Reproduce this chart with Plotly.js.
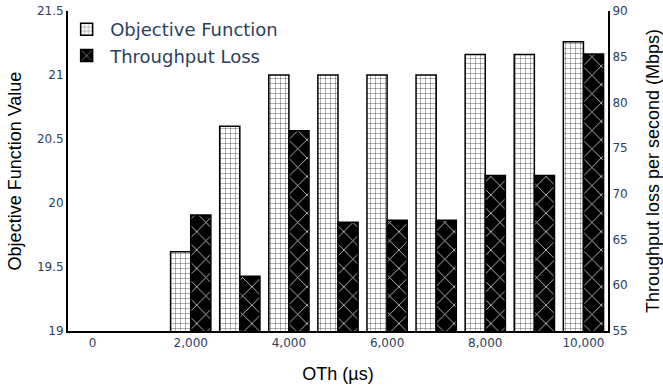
<!DOCTYPE html>
<html>
<head>
<meta charset="utf-8">
<script src="https://cdn.plot.ly/plotly-3.0.1.min.js"></script>
<style>
  html, body { margin: 0; padding: 0; background: #fff; }
  #chart { width: 663px; height: 389px; }
</style>
</head>
<body>
<div id="chart"></div>
<script>
// OTh thresholds (µs)
let oth = [2000, 3000, 4000, 5000, 6000, 7000, 8000, 9000, 10000];

// objective function value for each threshold (left axis)
let objective = [19.62, 20.6, 21.0, 21.0, 21.0, 21.0, 21.16, 21.16, 21.26];

// throughput loss in Mbps (right axis)
let throughputLoss = [67.7, 61.0, 76.9, 66.9, 67.1, 67.1, 72.0, 72.0, 85.3];

let tickFont = { family: 'DejaVu Sans, Verdana, sans-serif', size: 12, color: '#2a3f5f' };
let titleFont = { family: 'Liberation Sans, Arial, sans-serif', size: 18, color: '#000' };

// objective bars: white with a fine grid
let trace1 = {
    x: oth,
    y: objective,
    type: 'bar',
    name: 'Objective Function',
    offsetgroup: '1',
    marker: {
        color: 'white',
        line: { color: 'black', width: 1.5 },
        pattern: { shape: '+', bgcolor: 'white', fgcolor: 'black', size: 5, solidity: 0.12 }
    }
};

// throughput loss bars: black with a diagonal cross-hatch
let trace2 = {
    x: oth,
    y: throughputLoss,
    type: 'bar',
    name: 'Throughput Loss',
    yaxis: 'y2',
    offsetgroup: '2',
    marker: {
        color: 'black',
        line: { color: 'black', width: 1.5 },
        pattern: { shape: 'x', bgcolor: 'black', fgcolor: '#dddddd', size: 13, solidity: 0.12 }
    }
};

let data = [trace1, trace2];

let layout = {
    width: 663,
    height: 389,
    margin: { l: 68, r: 55, t: 11, b: 58 },
    paper_bgcolor: 'white',
    plot_bgcolor: 'white',
    barmode: 'group',
    bargap: 0.18,
    bargroupgap: 0,
    showlegend: true,
    legend: {
        x: -0.009, y: 1, xanchor: 'left', yanchor: 'top',
        itemwidth: 37,
        bgcolor: 'rgba(0,0,0,0)',
        font: { family: 'DejaVu Sans, Verdana, sans-serif', size: 18, color: '#2a3f5f' }
    },
    xaxis: {
        range: [-500, 10500],
        tick0: 0,
        dtick: 2000,
        tickformat: ',d',
        showgrid: false,
        zeroline: false,
        showline: true,
        linecolor: 'black',
        linewidth: 2,
        ticks: '',
        tickfont: tickFont,
        title: { text: 'OTh (µs)', font: titleFont, standoff: 18 }
    },
    yaxis: {
        range: [19, 21.5],
        dtick: 0.5,
        showgrid: false,
        zeroline: false,
        showline: true,
        linecolor: 'black',
        linewidth: 2,
        ticks: '',
        tickfont: tickFont,
        title: { text: 'Objective Function Value', font: titleFont }
    },
    yaxis2: {
        range: [55, 90],
        dtick: 5,
        overlaying: 'y',
        side: 'right',
        showgrid: false,
        zeroline: false,
        showline: true,
        linecolor: 'black',
        linewidth: 2,
        ticks: '',
        tickfont: tickFont,
        title: { text: 'Throughput loss per second (Mbps)', font: titleFont }
    }
};

Plotly.newPlot('chart', data, layout, { displayModeBar: false });
</script>
</body>
</html>
